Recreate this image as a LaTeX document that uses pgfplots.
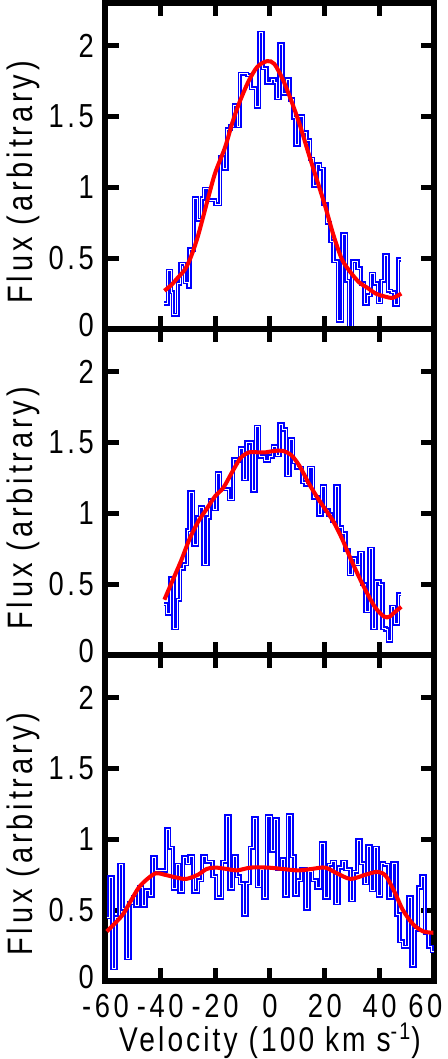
\documentclass[border=0pt]{standalone}
\usepackage{fontspec}
\setmainfont{Liberation Sans}[FakeStretch=0.82, LetterSpace=6]
\newfontfamily\tickfont{Liberation Sans}[FakeStretch=0.82, LetterSpace=11]
\newfontfamily\ylabfont{Liberation Sans}[FakeStretch=0.82, LetterSpace=11]
\newfontfamily\xlabfont{Liberation Sans}[FakeStretch=0.82, LetterSpace=9]
\usepackage{pgfplots}
\pgfplotsset{compat=1.18}
\usepgfplotslibrary{groupplots}

\begin{document}
\begin{tikzpicture}
\begin{groupplot}[
  group style={group size=1 by 3, vertical sep=0pt, x descriptions at=edge bottom},
  width=163pt, height=161.5pt, scale only axis,
  xmin=-60, xmax=60, ymin=0, ymax=2.3,
  xtick={-60,-40,...,40}, ytick={0.5,1,1.5,2},
  extra y ticks={0},
  extra y tick style={yticklabel style={yshift=2pt}},
  tick align=inside, major tick length=6.5pt,
  axis line style={line width=3pt},
  major tick style={line width=2.5pt, black},
  tick label style={font=\tickfont\fontsize{16.5}{18}\selectfont, inner sep=0pt},
  xticklabel style={yshift=-6.5pt},
  yticklabel style={xshift=-5.5pt},
  /pgf/number format/assume math mode=true,
  ylabel={Flux (arbitrary)},
  ylabel style={at={(axis description cs:-0.25,0.45)}, anchor=center, font=\ylabfont\fontsize{17.5}{19}\selectfont},
  xlabel style={font=\xlabfont\fontsize{17}{19}\selectfont, inner sep=0pt, yshift=-2.1pt},
  blueline/.style={draw=blue, line width=0.85pt, double=white, double distance=0.45pt, const plot mark left, mark=none},
  redline/.style={draw=red, line width=2pt, smooth, mark=none},
]
\nextgroupplot
\addplot[blueline] coordinates {(-38.5,0.18)(-37.3,0.41)(-36.1,0.26)(-35.4,0.10)(-33.6,0.32)(-32.7,0.46)(-31.1,0.33)(-29.9,0.30)(-29.3,0.56)(-27.8,0.92)(-26.5,0.77)(-24.9,0.92)(-24.1,0.99)(-22.5,0.91)(-20.0,0.88)(-18.1,1.21)(-16.9,1.13)(-15.7,1.41)(-14.4,1.43)(-13.2,1.58)(-12.0,1.43)(-11.0,1.80)(-8.3,1.79)(-7.0,1.70)(-5.2,1.57)(-3.9,2.09)(-2.7,1.84)(-1.2,1.74)(0.4,1.76)(1.6,1.74)(2.2,1.63)(3.5,2.01)(4.7,1.66)(5.9,1.76)(7.2,1.62)(8.4,1.49)(9.3,1.30)(10.5,1.50)(12.1,1.39)(13.3,1.33)(14.6,1.20)(15.8,1.01)(17.0,1.16)(18.3,1.13)(19.5,0.88)(20.7,0.75)(22.0,0.62)(23.2,0.48)(24.8,0.06)(26.3,0.67)(27.8,0.34)(28.8,0.02)(30.0,0.48)(31.9,0.43)(33.1,0.32)(34.3,0.18)(35.6,0.24)(36.8,0.39)(38.0,0.32)(39.3,0.19)(40.5,0.34)(41.7,0.52)(43.0,0.27)(44.2,0.26)(45.4,0.17)(46.7,0.49)(47.9,0.49)};
\addplot[redline] coordinates {(-38.5,0.27)(-36,0.31)(-33.7,0.36)(-31,0.42)(-28.8,0.51)(-26.2,0.66)(-22.6,0.92)(-20,1.10)(-16.4,1.28)(-13.8,1.45)(-11.5,1.58)(-8,1.74)(-4.6,1.85)(-1,1.89)(1.6,1.87)(4.7,1.76)(7.8,1.61)(10.9,1.44)(13.9,1.25)(17.0,1.06)(20.1,0.87)(23.2,0.66)(26.3,0.49)(29.4,0.40)(32.5,0.33)(35.6,0.29)(38.6,0.25)(41.7,0.23)(44.8,0.22)(47.9,0.25)};
\nextgroupplot
\addplot[blueline] coordinates {(-38.5,0.36)(-37.6,0.29)(-36.4,0.54)(-35.2,0.19)(-33.9,0.39)(-32.7,0.61)(-31.5,0.64)(-30.2,0.88)(-29.3,1.15)(-28.0,0.78)(-26.5,0.97)(-25.6,1.04)(-24.3,0.64)(-22.8,0.97)(-21.9,1.09)(-20.6,1.03)(-19.4,1.28)(-18.1,1.18)(-16.9,1.17)(-15.0,1.10)(-13.4,1.38)(-12.0,1.37)(-11.0,1.46)(-9.8,1.24)(-8.5,1.50)(-6.4,1.16)(-5.2,1.61)(-3.9,1.40)(-1.85,1.37)(-0.25,1.40)(1.0,1.47)(2.2,1.41)(3.5,1.63)(4.7,1.59)(5.9,1.27)(7.2,1.52)(8.4,1.36)(9.6,1.32)(11.7,1.22)(13.0,1.20)(14.2,1.32)(15.8,1.11)(17.6,0.99)(18.9,1.19)(20.1,1.02)(21.4,0.99)(22.6,0.95)(23.8,1.19)(25.1,0.90)(26.3,0.86)(27.5,0.74)(28.8,0.57)(30.0,0.68)(31.2,0.64)(32.5,0.72)(33.7,0.50)(34.9,0.31)(36.2,0.75)(37.4,0.19)(38.6,0.52)(39.9,0.50)(41.1,0.19)(42.1,0.18)(43.0,0.10)(44.2,0.34)(45.4,0.22)(46.7,0.43)(47.9,0.43)};
\addplot[redline] coordinates {(-38.5,0.39)(-35.4,0.53)(-32.3,0.67)(-29.3,0.82)(-26.2,0.94)(-23.1,1.03)(-20.0,1.12)(-17.0,1.18)(-13.8,1.29)(-10.7,1.39)(-7.6,1.43)(-4.6,1.43)(-1.5,1.43)(1.6,1.44)(4.7,1.44)(7.8,1.41)(10.9,1.33)(13.9,1.22)(17.0,1.12)(20.1,1.03)(23.2,0.94)(26.3,0.82)(29.4,0.68)(32.5,0.55)(35.6,0.43)(38.6,0.33)(41.7,0.27)(43.6,0.27)(45.4,0.30)(47.9,0.34)};
\nextgroupplot[xlabel={Velocity (100 km s\textsuperscript{-1})},
  extra x ticks={60}, extra x tick style={xticklabel style={xshift=-4.5pt}}]
\addplot[blueline] coordinates {(-59.5,0.45)(-58.6,0.73)(-57.4,0.09)(-56.2,0.45)(-55.0,0.82)(-53.7,0.51)(-52.5,0.16)(-51.2,0.55)(-50.0,0.59)(-49.0,0.53)(-47.8,0.66)(-46.6,0.53)(-45.3,0.64)(-44.1,0.60)(-42.8,0.87)(-41.6,0.78)(-37.9,1.07)(-36.7,0.94)(-35.4,0.65)(-34.2,0.82)(-33.0,0.63)(-31.7,0.87)(-30.5,0.83)(-29.3,0.88)(-28.0,0.63)(-26.2,0.71)(-24.7,0.88)(-23.3,0.84)(-22.5,0.84)(-20.9,0.74)(-19.6,0.59)(-17.5,0.84)(-15.9,1.16)(-14.7,0.65)(-13.4,0.88)(-12.2,0.74)(-11.0,0.69)(-9.7,0.47)(-8.5,0.69)(-7.3,0.94)(-6.0,1.15)(-4.8,0.67)(-3.5,0.79)(-2.3,0.59)(-1.1,1.16)(0.4,0.92)(1.6,1.14)(2.8,0.79)(4.1,0.86)(5.3,0.60)(6.5,1.17)(7.8,0.88)(9.0,0.61)(10.2,0.71)(11.5,0.79)(13.0,0.51)(14.2,0.77)(15.4,0.71)(17.0,0.66)(18.6,0.97)(19.9,0.59)(21.4,0.82)(22.6,0.84)(23.8,0.55)(25.1,0.80)(26.3,0.84)(27.5,0.79)(29.4,0.57)(30.6,0.77)(31.8,0.99)(33.1,0.83)(34.3,0.69)(35.6,0.95)(36.8,0.64)(38.0,0.94)(39.3,0.60)(40.5,0.83)(41.7,0.82)(43.3,0.59)(44.6,0.83)(46.1,0.47)(47.3,0.28)(48.5,0.24)(50.4,0.59)(51.6,0.11)(52.8,0.36)(54.1,0.66)(55.3,0.74)(56.5,0.34)(57.8,0.24)(59.0,0.21)(60.0,0.21)};
\addplot[redline] coordinates {(-59.5,0.35)(-54.0,0.46)(-50.9,0.56)(-47.8,0.66)(-44.7,0.72)(-41.6,0.76)(-38.5,0.75)(-34.2,0.73)(-30.5,0.72)(-26.2,0.75)(-23.1,0.79)(-20.0,0.80)(-15.7,0.79)(-12.0,0.78)(-7.0,0.80)(-0.9,0.80)(4.7,0.79)(10.2,0.78)(15.2,0.79)(20.1,0.80)(24.4,0.76)(29.4,0.72)(34.9,0.75)(39.3,0.77)(42.3,0.74)(45.4,0.63)(48.5,0.50)(52.2,0.40)(55.9,0.35)(59.6,0.34)};
\end{groupplot}
\path (group c1r3.south east) ++(6.5pt,0pt) coordinate (bbr);
\path (bbr) -- ++(0,1pt);
\end{tikzpicture}
\end{document}
